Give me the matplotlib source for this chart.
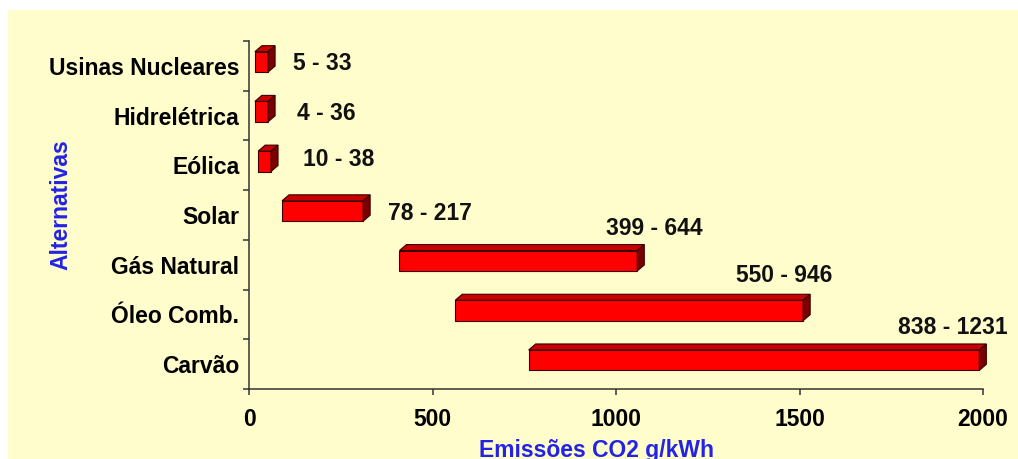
import numpy as np
import matplotlib.pyplot as plt
from matplotlib.patches import Polygon, Rectangle

# Dados
alternativas = ['Usinas Nucleares', 'Hidrelétrica', 'Eólica', 'Solar',
                'Gás Natural', 'Óleo Comb.', 'Carvão']
inicio = [16, 16, 25, 90, 410, 562, 762]
fim = [52, 52, 60, 311, 1058, 1510, 1990]
faixas = ['5 - 33', '4 - 36', '10 - 38', '78 - 217',
          '399 - 644', '550 - 946', '838 - 1231']

# posição dos rótulos (pixels em relação ao fim da barra)
rot_dx = [25, 29, 32, 25, 17, -19, -27]
rot_dy = [2, 2, 6, 2, 36, 39, 37]
rot_ha = ['left', 'left', 'left', 'left', 'center', 'center', 'center']

plt.rcParams['font.family'] = ['Liberation Sans', 'DejaVu Sans']
plt.rcParams['font.weight'] = 'bold'

fig = plt.figure(figsize=(10.18, 4.59), dpi=100, facecolor='white')
fig.patches.append(Rectangle((8/1018, 0), 1, 1 - 10/459, transform=fig.transFigure,
                             facecolor='#FFFDCC', edgecolor='none', zorder=-10))
ax = fig.add_axes([249/1018, 1 - 389/459, 734/1018, 348/459])
ax.set_facecolor('none')

n = len(alternativas)
y = np.arange(n)
h = 0.41
desl = -0.08
px_x = 2000/734  # unidades de dados por pixel
px_y = 1/49.7
dx = 7*px_x
dy = 6*px_y

ax.barh(y + desl, np.array(fim) - np.array(inicio), left=inicio, height=h,
        color='#FF0000', edgecolor='#3a0000', linewidth=0.8, zorder=3)
for i in range(n):
    top = y[i] + desl - h/2
    bot = y[i] + desl + h/2
    a, b = inicio[i], fim[i]
    ax.add_patch(Polygon([(a, top), (a + dx, top - dy), (b + dx, top - dy), (b, top)],
                         closed=True, facecolor='#C80000', edgecolor='#3a0000',
                         linewidth=0.8, zorder=3, clip_on=False))
    ax.add_patch(Polygon([(b, top), (b + dx, top - dy), (b + dx, bot - dy), (b, bot)],
                         closed=True, facecolor='#7A0000', edgecolor='#3a0000',
                         linewidth=0.8, zorder=3, clip_on=False))
    ax.annotate(faixas[i], xy=(b, y[i]), xytext=(rot_dx[i]*0.72, rot_dy[i]*0.72),
                textcoords='offset points', ha=rot_ha[i], va='center',
                fontsize=16.5, fontweight='bold', color='#111111')

ax.set_xlim(0, 2000)
ax.set_ylim(n - 0.5, -0.5)
ax.set_xticks([0, 500, 1000, 1500, 2000])
ax.set_yticks(y)
ax.set_yticklabels(alternativas)
ax.set_yticks(np.arange(n + 1) - 0.5, minor=True)
ax.tick_params(axis='y', which='major', length=0, pad=7, labelsize=16.5)
ax.tick_params(axis='y', which='minor', length=4, width=1.1, color='#333333')
ax.tick_params(axis='x', length=4, width=1.1, color='#333333', pad=10, labelsize=16.5)

for s in ['top', 'right']:
    ax.spines[s].set_visible(False)
for s in ['left', 'bottom']:
    ax.spines[s].set_color('#333333')
    ax.spines[s].set_linewidth(1.1)

ax.set_xlabel('Emissões CO2 g/kWh', fontsize=16.5, fontweight='bold', color='#2323E8')
ax.xaxis.set_label_coords(0.474, -0.145)
ax.set_ylabel('Alternativas', fontsize=16.5, fontweight='bold', color='#2323E8')
ax.yaxis.set_label_coords(-0.240, 0.53)

fig.savefig('out.png', dpi=100)
